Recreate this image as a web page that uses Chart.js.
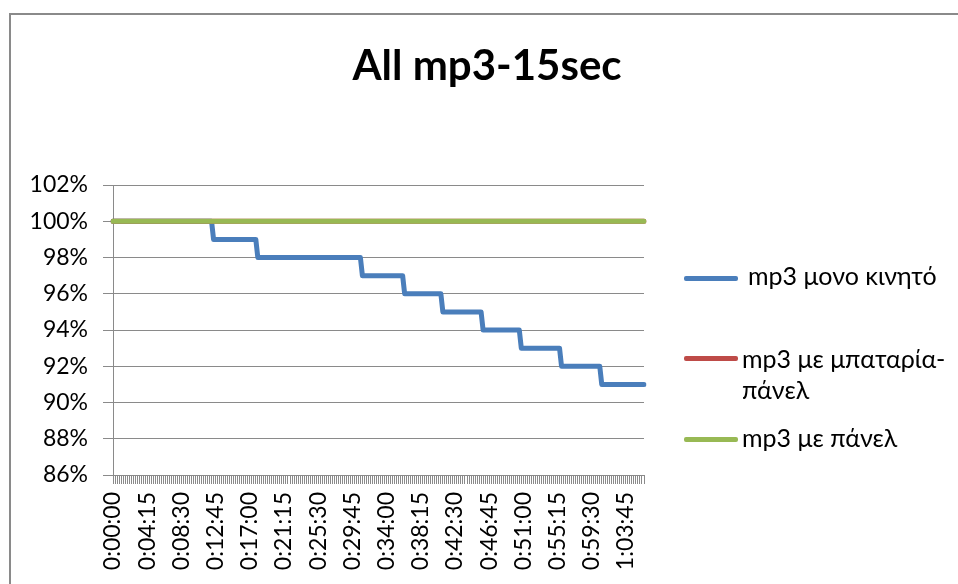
<!DOCTYPE html>
<html>
<head>
<meta charset="utf-8">
<title>All mp3-15sec</title>
<script src="https://cdn.jsdelivr.net/npm/chart.js@4.4.1/dist/chart.umd.min.js"></script>
<style>
  html, body { margin: 0; padding: 0; background: #fff; width: 958px; height: 584px; overflow: hidden; }
  #frame { position: absolute; left: 9px; top: 13px; width: 2000px; height: 2000px;
           border-left: 2px solid #8a8a8a; border-top: 2px solid #8a8a8a; box-sizing: border-box; }
  #chart { position: absolute; left: 0; top: 0; }
  #title { position: absolute; left: 287px; width: 400px; top: 39px; line-height: 50px;
           text-align: center; font: bold 42px Lato, "Noto Sans", sans-serif;
           color: #000; white-space: nowrap; }
  .swatch { position: absolute; left: 684px; width: 54px; height: 5px; border-radius: 2px; }
  .ltext { position: absolute; font: 25px Lato, "Noto Sans", sans-serif; line-height: 28px; color: #000; white-space: nowrap; }
</style>
</head>
<body>
<div id="frame"></div>
<canvas id="chart" width="958" height="584"></canvas>
<div id="title"></div>
<div id="legend"></div>
<script>
// Sample times: one reading every 15 seconds
const SAMPLE_STEP_SEC = 15;
const SAMPLE_COUNT = 265;

// Time labels shown under the axis
const tickLabels = [
  '0:00:00', '0:04:15', '0:08:30', '0:12:45', '0:17:00', '0:21:15', '0:25:30', '0:29:45',
  '0:34:00', '0:38:15', '0:42:30', '0:46:45', '0:51:00', '0:55:15', '0:59:30', '1:03:45'
];

const seriesNames = ['mp3 μονο κινητό', 'mp3 με μπαταρία-πάνελ', 'mp3 με πάνελ'];

// Battery level (%) – phone only
const phoneOnly = [
  100,100,100,100,100,100,100,100,100,100,
  100,100,100,100,100,100,100,100,100,100,
  100,100,100,100,100,100,100,100,100,100,
  100,100,100,100,100,100,100,100,100,100,
  100,100,100,100,100,100,100,100,100,100,
  99,99,99,99,99,99,99,99,99,99,
  99,99,99,99,99,99,99,99,99,99,
  99,99,98,98,98,98,98,98,98,98,
  98,98,98,98,98,98,98,98,98,98,
  98,98,98,98,98,98,98,98,98,98,
  98,98,98,98,98,98,98,98,98,98,
  98,98,98,98,98,98,98,98,98,98,
  98,98,98,98,97,97,97,97,97,97,
  97,97,97,97,97,97,97,97,97,97,
  97,97,97,97,97,96,96,96,96,96,
  96,96,96,96,96,96,96,96,96,96,
  96,96,96,96,95,95,95,95,95,95,
  95,95,95,95,95,95,95,95,95,95,
  95,95,95,95,94,94,94,94,94,94,
  94,94,94,94,94,94,94,94,94,94,
  94,94,94,93,93,93,93,93,93,93,
  93,93,93,93,93,93,93,93,93,93,
  93,93,93,92,92,92,92,92,92,92,
  92,92,92,92,92,92,92,92,92,92,
  92,92,92,91,91,91,91,91,91,91,
  91,91,91,91,91,91,91,91,91,91,
  91,91,91,91,91
];

// Battery level (%) – phone with battery pack and solar panel
const batteryPanel = [
  100,100,100,100,100,100,100,100,100,100,
  100,100,100,100,100,100,100,100,100,100,
  100,100,100,100,100,100,100,100,100,100,
  100,100,100,100,100,100,100,100,100,100,
  100,100,100,100,100,100,100,100,100,100,
  100,100,100,100,100,100,100,100,100,100,
  100,100,100,100,100,100,100,100,100,100,
  100,100,100,100,100,100,100,100,100,100,
  100,100,100,100,100,100,100,100,100,100,
  100,100,100,100,100,100,100,100,100,100,
  100,100,100,100,100,100,100,100,100,100,
  100,100,100,100,100,100,100,100,100,100,
  100,100,100,100,100,100,100,100,100,100,
  100,100,100,100,100,100,100,100,100,100,
  100,100,100,100,100,100,100,100,100,100,
  100,100,100,100,100,100,100,100,100,100,
  100,100,100,100,100,100,100,100,100,100,
  100,100,100,100,100,100,100,100,100,100,
  100,100,100,100,100,100,100,100,100,100,
  100,100,100,100,100,100,100,100,100,100,
  100,100,100,100,100,100,100,100,100,100,
  100,100,100,100,100,100,100,100,100,100,
  100,100,100,100,100,100,100,100,100,100,
  100,100,100,100,100,100,100,100,100,100,
  100,100,100,100,100,100,100,100,100,100,
  100,100,100,100,100,100,100,100,100,100,
  100,100,100,100,100
];

// Battery level (%) – phone with solar panel
const panelOnly = [
  100,100,100,100,100,100,100,100,100,100,
  100,100,100,100,100,100,100,100,100,100,
  100,100,100,100,100,100,100,100,100,100,
  100,100,100,100,100,100,100,100,100,100,
  100,100,100,100,100,100,100,100,100,100,
  100,100,100,100,100,100,100,100,100,100,
  100,100,100,100,100,100,100,100,100,100,
  100,100,100,100,100,100,100,100,100,100,
  100,100,100,100,100,100,100,100,100,100,
  100,100,100,100,100,100,100,100,100,100,
  100,100,100,100,100,100,100,100,100,100,
  100,100,100,100,100,100,100,100,100,100,
  100,100,100,100,100,100,100,100,100,100,
  100,100,100,100,100,100,100,100,100,100,
  100,100,100,100,100,100,100,100,100,100,
  100,100,100,100,100,100,100,100,100,100,
  100,100,100,100,100,100,100,100,100,100,
  100,100,100,100,100,100,100,100,100,100,
  100,100,100,100,100,100,100,100,100,100,
  100,100,100,100,100,100,100,100,100,100,
  100,100,100,100,100,100,100,100,100,100,
  100,100,100,100,100,100,100,100,100,100,
  100,100,100,100,100,100,100,100,100,100,
  100,100,100,100,100,100,100,100,100,100,
  100,100,100,100,100,100,100,100,100,100,
  100,100,100,100,100,100,100,100,100,100,
  100,100,100,100,100
];

const seriesColors = ['#4A7EBB', '#BE4B48', '#98B954'];

function formatTime(totalSec) {
  const h = Math.floor(totalSec / 3600);
  const m = Math.floor((totalSec % 3600) / 60);
  const s = totalSec % 60;
  return h + ':' + String(m).padStart(2, '0') + ':' + String(s).padStart(2, '0');
}
const sampleTimes = [];
for (let i = 0; i < SAMPLE_COUNT; i++) sampleTimes.push(formatTime(i * SAMPLE_STEP_SEC));

document.getElementById('title').textContent = 'All mp3-15sec';

// Legend on the right
const legendRows = [
  { color: seriesColors[0], swatchY: 276, lines: [{ text: seriesNames[0], x: 748, y: 261 }] },
  { color: seriesColors[1], swatchY: 356, lines: [{ text: 'mp3 με μπαταρία-', x: 742, y: 344 },
                                                  { text: 'πάνελ', x: 742, y: 375 }] },
  { color: seriesColors[2], swatchY: 437, lines: [{ text: seriesNames[2], x: 742, y: 423 }] }
];
const legendEl = document.getElementById('legend');
legendRows.forEach(row => {
  const sw = document.createElement('div');
  sw.className = 'swatch';
  sw.style.top = row.swatchY + 'px';
  sw.style.background = row.color;
  legendEl.appendChild(sw);
  row.lines.forEach(l => {
    const t = document.createElement('div');
    t.className = 'ltext';
    t.style.left = l.x + 'px';
    t.style.top = l.y + 'px';
    t.textContent = l.text;
    legendEl.appendChild(t);
  });
});

const axisGray = '#8a8a8a';
const tickFont = { family: 'Lato, "Noto Sans", sans-serif', size: 23 };

new Chart(document.getElementById('chart'), {
  type: 'line',
  data: {
    labels: sampleTimes,
    datasets: [
      { label: seriesNames[0], data: phoneOnly, borderColor: seriesColors[0], order: 2 },
      { label: seriesNames[1], data: batteryPanel, borderColor: seriesColors[1], order: 1 },
      { label: seriesNames[2], data: panelOnly, borderColor: seriesColors[2], order: 0 }
    ]
  },
  options: {
    responsive: false,
    animation: false,
    devicePixelRatio: 1,
    layout: { padding: { top: 185, right: 314, bottom: 0, left: 0 } },
    plugins: { legend: { display: false }, title: { display: false }, tooltip: { enabled: false } },
    elements: {
      point: { radius: 0 },
      line: { borderWidth: 5, tension: 0, borderCapStyle: 'round', borderJoinStyle: 'round', fill: false }
    },
    scales: {
      x: {
        type: 'category',
        offset: false,
        grid: { drawOnChartArea: false, drawTicks: true, tickLength: 9, color: axisGray, lineWidth: 1 },
        border: { display: true, color: axisGray, width: 1 },
        ticks: {
          autoSkip: false, minRotation: 90, maxRotation: 90, padding: 8, color: '#000', font: tickFont,
          callback: function (v, i) { const t = sampleTimes[i]; return tickLabels.includes(t) ? t : ''; }
        },
        afterFit: s => { s.height = 109; }
      },
      y: {
        min: 86, max: 102,
        grid: { color: axisGray, lineWidth: 1, tickLength: 10 },
        border: { display: true, color: axisGray, width: 1 },
        ticks: { stepSize: 2, padding: 15, color: '#000', font: tickFont, callback: v => v + '%' },
        afterFit: s => { s.width = 113; }
      }
    }
  }
});
</script>
</body>
</html>
